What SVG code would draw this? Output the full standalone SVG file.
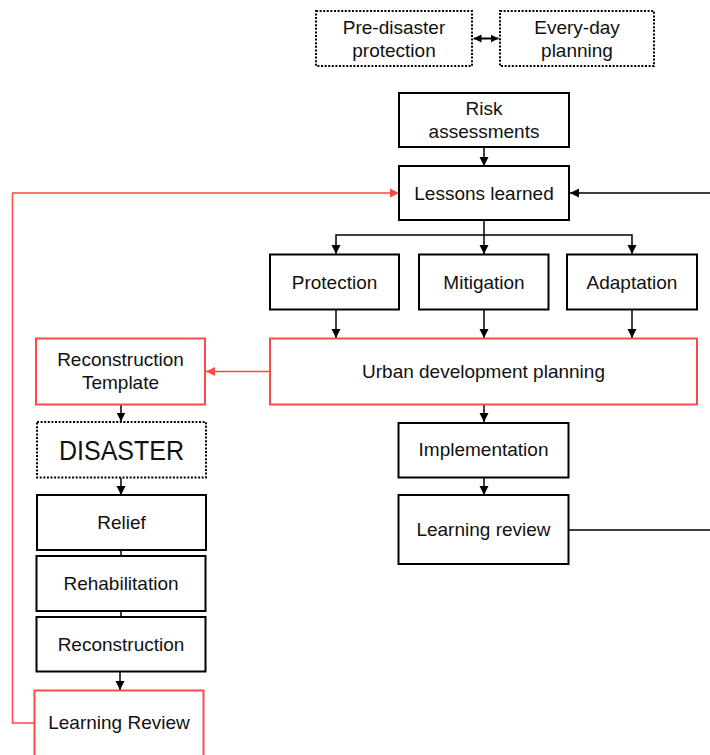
<svg xmlns="http://www.w3.org/2000/svg" width="710" height="755" viewBox="0 0 710 755">
  <style>
    text { font-family: "Liberation Sans", Arial, sans-serif; font-size: 19px; fill: #111; text-anchor: middle; }
    .box { fill: #fff; stroke: #000; stroke-width: 2; }
    .red { fill: #fff; stroke: #ff4848; stroke-width: 2; }
    .dot { fill: #fff; stroke: #000; stroke-width: 2; stroke-dasharray: 2 1.6; }
    .ln { fill: none; stroke: #000; stroke-width: 1.5; }
    .rln { fill: none; stroke: #ff4848; stroke-width: 1.5; }
  </style>
  <defs>
    <marker id="ah" markerUnits="userSpaceOnUse" markerWidth="9" markerHeight="10" refX="9" refY="5" orient="auto-start-reverse">
      <path d="M0,0.5 L9,5 L0,9.5 z" fill="#000"/>
    </marker>
    <marker id="ahs" markerUnits="userSpaceOnUse" markerWidth="8" markerHeight="9" refX="8" refY="4.5" orient="auto-start-reverse">
      <path d="M0,0.5 L8,4.5 L0,8.5 z" fill="#000"/>
    </marker>
    <marker id="ahr" markerUnits="userSpaceOnUse" markerWidth="9" markerHeight="10" refX="9" refY="5" orient="auto">
      <path d="M0,0.5 L9,5 L0,9.5 z" fill="#ff4848"/>
    </marker>
  </defs>

  <!-- connectors -->
  <g id="connectors">
    <line class="ln" x1="473.5" y1="38.5" x2="498.5" y2="38.5" style="stroke-width:2" marker-start="url(#ahs)" marker-end="url(#ahs)"/>
    <line class="ln" x1="484" y1="147" x2="484" y2="166" marker-end="url(#ah)"/>
    <line class="ln" x1="710" y1="193" x2="570" y2="193" marker-end="url(#ah)"/>
    <line class="ln" x1="484" y1="221" x2="484" y2="254" marker-end="url(#ah)"/>
    <path class="ln" d="M336,254 V235 H632 V254" marker-start="url(#ah)" marker-end="url(#ah)"/>
    <line class="ln" x1="336" y1="310" x2="336" y2="338" marker-end="url(#ah)"/>
    <line class="ln" x1="484" y1="310" x2="484" y2="338" marker-end="url(#ah)"/>
    <line class="ln" x1="632" y1="310" x2="632" y2="338" marker-end="url(#ah)"/>
    <line class="ln" x1="484" y1="405" x2="484" y2="422" marker-end="url(#ah)"/>
    <line class="ln" x1="484" y1="478" x2="484" y2="495" marker-end="url(#ah)"/>
    <line class="ln" x1="569" y1="530" x2="710" y2="530"/>
    <line class="rln" x1="269" y1="371.5" x2="206" y2="371.5" marker-end="url(#ahr)"/>
    <line class="ln" x1="121" y1="405" x2="121" y2="421.5" marker-end="url(#ah)"/>
    <line class="ln" x1="121" y1="478" x2="121" y2="495" marker-end="url(#ah)"/>
    <line class="ln" x1="121" y1="550" x2="121" y2="556"/>
    <line class="ln" x1="121" y1="611" x2="121" y2="617"/>
    <line class="ln" x1="120" y1="672" x2="120" y2="690" marker-end="url(#ah)"/>
    <path class="rln" d="M34,723 H12.5 V193 H399" marker-end="url(#ahr)"/>
  </g>

  <g id="pre-disaster">
    <rect class="dot" x="316" y="11" width="156" height="55"/>
    <text x="394" y="34">Pre-disaster</text>
    <text x="394" y="57">protection</text>
  </g>
  <g id="every-day">
    <rect class="dot" x="500" y="11" width="154" height="55"/>
    <text x="577" y="34">Every-day</text>
    <text x="577" y="57">planning</text>
  </g>
  <g id="risk">
    <rect class="box" x="399" y="93" width="170" height="54"/>
    <text x="484" y="115">Risk</text>
    <text x="484" y="138">assessments</text>
  </g>
  <g id="lessons">
    <rect class="box" x="399" y="166" width="170" height="54"/>
    <text x="484" y="199.5">Lessons learned</text>
  </g>
  <g id="protection">
    <rect class="box" x="270" y="254.5" width="129" height="55"/>
    <text x="334.5" y="288.5">Protection</text>
  </g>
  <g id="mitigation">
    <rect class="box" x="419" y="254.5" width="129.5" height="55"/>
    <text x="484" y="288.5">Mitigation</text>
  </g>
  <g id="adaptation">
    <rect class="box" x="567" y="254.5" width="130" height="55"/>
    <text x="632" y="288.5">Adaptation</text>
  </g>
  <g id="urban">
    <rect class="red" x="270" y="338.5" width="427" height="66"/>
    <text x="483.5" y="378">Urban development planning</text>
  </g>
  <g id="template">
    <rect class="red" x="36" y="338.5" width="169" height="66"/>
    <text x="120.5" y="366">Reconstruction</text>
    <text x="120.5" y="389">Template</text>
  </g>
  <g id="implementation">
    <rect class="box" x="398.5" y="423" width="170" height="54.5"/>
    <text x="483.5" y="456">Implementation</text>
  </g>
  <g id="learning-review-right">
    <rect class="box" x="398.5" y="495" width="170" height="69"/>
    <text x="483.5" y="536">Learning review</text>
  </g>
  <g id="disaster">
    <rect class="dot" x="37" y="422" width="169" height="55.5"/>
    <text x="121.5" y="460" style="font-size:27px" textLength="125" lengthAdjust="spacingAndGlyphs">DISASTER</text>
  </g>
  <g id="relief">
    <rect class="box" x="37" y="495" width="169" height="55"/>
    <text x="121.5" y="529">Relief</text>
  </g>
  <g id="rehabilitation">
    <rect class="box" x="36.5" y="556" width="169" height="55"/>
    <text x="121" y="590">Rehabilitation</text>
  </g>
  <g id="reconstruction">
    <rect class="box" x="36.5" y="617" width="169" height="54.5"/>
    <text x="121" y="651">Reconstruction</text>
  </g>
  <g id="learning-review-left">
    <rect class="red" x="34.5" y="690.5" width="169" height="80"/>
    <text x="119" y="729">Learning Review</text>
  </g>
</svg>
